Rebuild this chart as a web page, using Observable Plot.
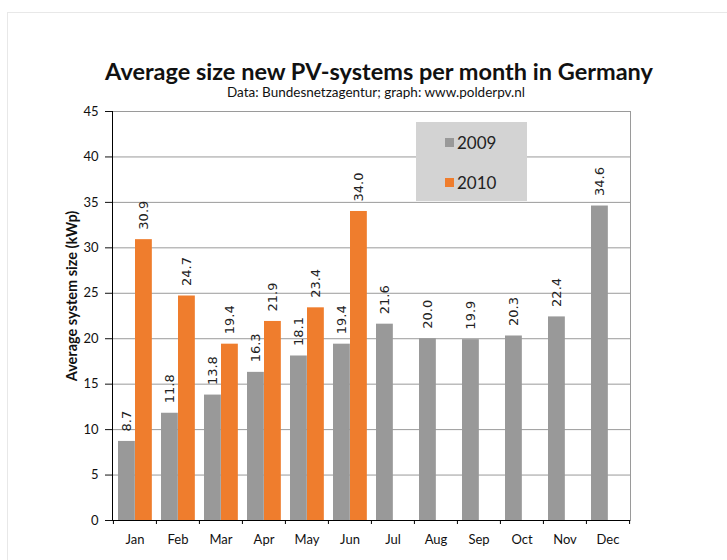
<!DOCTYPE html>
<html><head><meta charset="utf-8">
<script src="https://cdn.jsdelivr.net/npm/d3@7"></script>
<script src="https://cdn.jsdelivr.net/npm/@observablehq/plot@0.6"></script>
<style>
html,body{margin:0;padding:0;background:#fff;overflow:hidden;}
#wrap{position:relative;width:727px;height:560px;overflow:hidden;font-family:Lato,sans-serif;color:#111;}
#border{position:absolute;left:7px;top:12px;width:760px;height:600px;border:1px solid #e8e8e8;}
#title{position:absolute;left:79px;width:600px;top:59px;text-align:center;font-weight:bold;font-size:23.5px;line-height:24px;white-space:nowrap;}
#subtitle{position:absolute;left:76px;width:600px;top:85px;text-align:center;font-size:13.5px;line-height:14px;white-space:nowrap;}
#chart{position:absolute;left:0;top:100px;}
#legend{position:absolute;left:416px;top:122px;width:111px;height:79px;background:#d3d3d3;}
.row{position:absolute;left:29px;height:20px;display:flex;align-items:center;font-size:17px;color:#222;}
.sw{width:9px;height:9px;margin-right:3px;}
</style></head>
<body><div id="wrap">
<div id="border"></div>
<div id="title">Average size new PV-systems per month in Germany</div>
<div id="subtitle">Data: Bundesnetzagentur; graph: www.polderpv.nl</div>
<div id="chart"></div>
<div id="legend"></div>
</div>
<script>
const months = ["Jan","Feb","Mar","Apr","May","Jun","Jul","Aug","Sep","Oct","Nov","Dec"];
const size2009 = [8.7,11.8,13.8,16.3,18.1,19.4,21.6,20.0,19.9,20.3,22.4,34.6];
const months2010 = ["Jan","Feb","Mar","Apr","May","Jun"];
const size2010 = [30.9,24.7,19.4,21.9,23.4,34.0];
const yTicks = [0,5,10,15,20,25,30,35,40,45];
const seriesNames = ["2009","2010"];
const seriesColors = ["#999999","#ef7d2d"];

const d09 = months.map((m,i)=>({month:m, value:size2009[i]}));
const d10 = months2010.map((m,i)=>({month:m, value:size2010[i]}));

const W=727, ML=112, MR=97, MT=11, MB=40, H=460;
const step = (W-ML-MR)/months.length;
const barW = 17, gapL = 5;
const fmt = d3.format(".1f");
const labelStyle = {rotate:-90, textAnchor:"start", lineAnchor:"middle", dy:-10, fontFamily:"DejaVu Sans", fontSize:13, fill:"#222"};

const chart = Plot.plot({
  width: W, height: H, marginLeft: ML, marginRight: MR, marginTop: MT, marginBottom: MB,
  style: {fontFamily: "Lato, sans-serif", background: "transparent", overflow: "visible", color:"#111"},
  x: {domain: months, padding: 0},
  y: {domain: [0,45]},
  marks: [
    Plot.gridY(yTicks, {stroke:"#9a9a9a", strokeOpacity:1}),
    Plot.frame({anchor:"right", stroke:"#9a9a9a"}),
    Plot.barY(d09, {x:"month", y:"value", fill: seriesColors[0], insetLeft: gapL, insetRight: step-gapL-barW}),
    Plot.barY(d10, {x:"month", y:"value", fill: seriesColors[1], insetLeft: gapL+barW, insetRight: step-gapL-2*barW}),
    Plot.text(d09, {x:"month", y:"value", text: d=>fmt(d.value), dx: gapL+barW/2-step/2, ...labelStyle}),
    Plot.text(d10, {x:"month", y:"value", text: d=>fmt(d.value), dx: gapL+barW*1.5-step/2, ...labelStyle}),
    Plot.axisY({ticks: yTicks, tickSize:7, tickPadding:7, label:null, fontSize:13}),
    Plot.frame({anchor:"left", stroke:"#000"}),
    Plot.ruleY([0], {stroke:"#000"}),
    Plot.ruleX(months, {x: d=>d, dx: -step/2, y1: 0, y2: 0, insetBottom: -4, stroke: "#000"}),
    Plot.ruleX([months[months.length-1]], {x: d=>d, dx: step/2, y1: 0, y2: 0, insetBottom: -4, stroke: "#000"}),
    Plot.axisX({tickSize:0, tickPadding:14, label:null, fontSize:13}),
    Plot.text(["Average system size (kWp)"], {frameAnchor:"left", textAnchor:"middle", rotate:-90, dx:-40, dy:-20, fontWeight:"bold", fontSize:14.5, fill:"#111"})
  ]
});
document.getElementById("chart").appendChild(chart);

const legend = document.getElementById("legend");
seriesNames.forEach((name,i)=>{
  const row = document.createElement("div");
  row.className = "row";
  row.style.top = (10 + i*40) + "px";
  const sw = document.createElement("div");
  sw.className = "sw"; sw.style.background = seriesColors[i];
  const t = document.createElement("span"); t.textContent = name;
  row.appendChild(sw); row.appendChild(t);
  legend.appendChild(row);
});
</script>
</body></html>
